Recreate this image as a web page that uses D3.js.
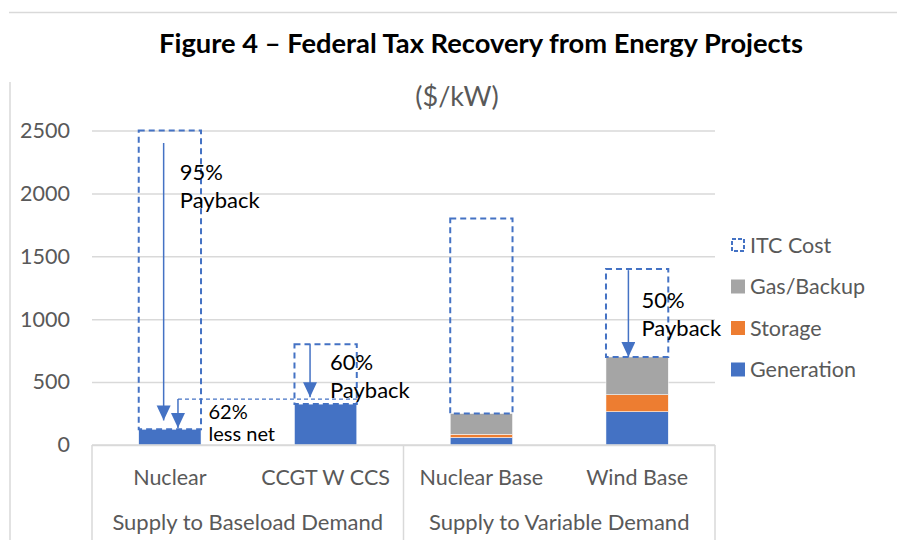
<!DOCTYPE html>
<html>
<head>
<meta charset="utf-8">
<script src="https://cdn.jsdelivr.net/npm/d3@7"></script>
<style>
  body { margin: 0; background: #fff; }
  svg { display: block; font-family: Lato, 'Open Sans', sans-serif; }
</style>
</head>
<body>
<div id="chart"></div>
<script>
// chart values
const categories = ['Nuclear', 'CCGT W CCS', 'Nuclear Base', 'Wind Base'];
const groupNames = ['Supply to Baseload Demand', 'Supply to Variable Demand'];
const groupMembers = [['Nuclear', 'CCGT W CCS'], ['Nuclear Base', 'Wind Base']];
const generation = [125, 325, 60, 265];
const storage = [0, 0, 25, 135];
const gasBackup = [0, 0, 165, 300];
const itcCost = [2375, 475, 1550, 700];
const yTicks = [0, 500, 1000, 1500, 2000, 2500];

// annotations (positions in data units: category + fraction of bar width, value)
const arrows = [
  { cat: 'Nuclear', at: 0.4, from: 2400, to: 195 },
  { cat: 'Nuclear', at: 0.63, from: 365, to: 135 },
  { cat: 'CCGT W CCS', at: 0.25, from: 800, to: 380 },
  { cat: 'Wind Base', at: 0.36, from: 1390, to: 700 },
];
const connector = { fromCat: 'Nuclear', fromAt: 0.63, toCat: 'CCGT W CCS', toAt: 1, value: 365 };
const notes = [
  { cat: 'Nuclear', at: 0.66, value: 2106, lines: ['95%', 'Payback'], gap: 28, size: 22 },
  { cat: 'Nuclear', at: 1.12, value: 203, lines: ['62%', 'less net'], gap: 22, size: 20 },
  { cat: 'CCGT W CCS', at: 0.57, value: 596, lines: ['60%', 'Payback'], gap: 28, size: 22 },
  { cat: 'Wind Base', at: 0.57, value: 1089, lines: ['50%', 'Payback'], gap: 28, size: 22 },
];

const keys = ['Generation', 'Storage', 'Gas/Backup', 'ITC Cost'];
const colors = { 'Generation': '#4472C4', 'Storage': '#ED7D31', 'Gas/Backup': '#A5A5A5', 'ITC Cost': 'none' };

const rows = categories.map((c, i) => ({
  cat: c,
  'Generation': generation[i],
  'Storage': storage[i],
  'Gas/Backup': gasBackup[i],
  'ITC Cost': itcCost[i],
}));

const width = 897;
const height = 540;
const plot = { left: 92, right: 715, top: 130.5, bottom: 445 };

const svg = d3.select('#chart').append('svg')
  .attr('width', width)
  .attr('height', height)
  .attr('viewBox', `0 0 ${width} ${height}`);

svg.append('rect').attr('width', width).attr('height', height).attr('fill', '#fff');

// page border lines
svg.append('line').attr('x1', 9).attr('x2', width).attr('y1', 12.5).attr('y2', 12.5)
  .attr('stroke', '#d9d9d9').attr('stroke-width', 1.5);
svg.append('line').attr('x1', 10).attr('x2', 10).attr('y1', 82).attr('y2', height)
  .attr('stroke', '#d9d9d9').attr('stroke-width', 1.5);

const x = d3.scaleBand()
  .domain(categories)
  .range([plot.left, plot.right])
  .paddingInner(0.6)
  .paddingOuter(0.3);

const y = d3.scaleLinear().domain([0, 2500]).range([plot.bottom, plot.top]);

const xAt = (cat, at) => x(cat) + at * x.bandwidth();

// title
svg.append('text')
  .attr('x', 481).attr('y', 53)
  .attr('text-anchor', 'middle')
  .attr('font-weight', 'bold')
  .attr('font-size', 27.3)
  .attr('fill', '#000')
  .text('Figure 4 – Federal Tax Recovery from Energy Projects');

svg.append('text')
  .attr('x', 457).attr('y', 106)
  .attr('text-anchor', 'middle')
  .attr('font-size', 27)
  .attr('fill', '#595959')
  .text('($/kW)');

// gridlines
const grid = svg.append('g')
  .attr('transform', `translate(${plot.left},0)`)
  .call(d3.axisLeft(y).tickValues(yTicks).tickFormat('').tickSize(-(plot.right - plot.left)));
grid.select('.domain').remove();
grid.selectAll('line').attr('stroke', '#d9d9d9').attr('stroke-width', 1.5);

// y labels
const yAxis = svg.append('g')
  .attr('transform', `translate(${plot.left - 22},0)`)
  .call(d3.axisLeft(y).tickValues(yTicks).tickFormat(d3.format('d')).tickSize(0).tickPadding(0));
yAxis.select('.domain').remove();
yAxis.selectAll('text')
  .attr('font-family', 'Lato, sans-serif')
  .attr('font-size', 21.5)
  .attr('fill', '#595959');

// stacked bars
const stacked = d3.stack().keys(keys)(rows);

const layers = svg.append('g').selectAll('g')
  .data(stacked)
  .join('g');

layers.selectAll('rect')
  .data((d) => d.map((v) => ({ key: d.key, v })))
  .join('rect')
  .attr('x', (d) => x(d.v.data.cat))
  .attr('width', x.bandwidth())
  .attr('y', (d) => y(d.v[1]))
  .attr('height', (d) => y(d.v[0]) - y(d.v[1]))
  .attr('fill', (d) => colors[d.key])
  .attr('stroke', (d) => (d.key === 'ITC Cost' ? '#4472C4' : '#fff'))
  .attr('stroke-width', (d) => (d.key === 'ITC Cost' ? 2 : 0.5))
  .attr('stroke-dasharray', (d) => (d.key === 'ITC Cost' ? '6,4' : null))
  .filter((d) => d.v[1] - d.v[0] <= 0)
  .remove();

// x axis (two levels)
const xAxisG = svg.append('g');
xAxisG.append('line')
  .attr('x1', plot.left).attr('x2', plot.right)
  .attr('y1', plot.bottom).attr('y2', plot.bottom)
  .attr('stroke', '#d9d9d9').attr('stroke-width', 1.5);

const groupEdges = [plot.left];
groupMembers.forEach((m) => {
  const last = m[m.length - 1];
  groupEdges.push(x(last) + x.bandwidth() + x.step() * 0.3);
});
xAxisG.selectAll('.sep')
  .data(groupEdges)
  .join('line')
  .attr('x1', (d) => d).attr('x2', (d) => d)
  .attr('y1', plot.bottom).attr('y2', height)
  .attr('stroke', '#d9d9d9').attr('stroke-width', 1.5);

xAxisG.selectAll('.cat')
  .data(categories)
  .join('text')
  .attr('x', (d) => x(d) + x.bandwidth() / 2)
  .attr('y', plot.bottom + 40)
  .attr('text-anchor', 'middle')
  .attr('font-size', 21.5)
  .attr('fill', '#595959')
  .text((d) => d);

xAxisG.selectAll('.grp')
  .data(groupNames)
  .join('text')
  .attr('x', (d, i) => (groupEdges[i] + groupEdges[i + 1]) / 2)
  .attr('y', plot.bottom + 85)
  .attr('text-anchor', 'middle')
  .attr('font-size', 22)
  .attr('fill', '#595959')
  .text((d) => d);

// arrows
const defs = svg.append('defs');
defs.append('marker')
  .attr('id', 'head')
  .attr('markerUnits', 'userSpaceOnUse')
  .attr('markerWidth', 15).attr('markerHeight', 15)
  .attr('refX', 15).attr('refY', 7)
  .attr('orient', 'auto')
  .append('path')
  .attr('d', 'M0,0 L15,7 L0,14 Z')
  .attr('fill', '#4472C4');

svg.append('line')
  .attr('x1', xAt(connector.fromCat, connector.fromAt))
  .attr('x2', xAt(connector.toCat, connector.toAt))
  .attr('y1', y(connector.value)).attr('y2', y(connector.value))
  .attr('stroke', '#4472C4').attr('stroke-width', 1.2)
  .attr('stroke-dasharray', '4,3');

svg.append('g').selectAll('line')
  .data(arrows)
  .join('line')
  .attr('x1', (d) => xAt(d.cat, d.at)).attr('x2', (d) => xAt(d.cat, d.at))
  .attr('y1', (d) => y(d.from)).attr('y2', (d) => y(d.to))
  .attr('stroke', '#4472C4').attr('stroke-width', 1.5)
  .attr('marker-end', 'url(#head)');

// annotation text, one text per line
svg.append('g').selectAll('text')
  .data(notes.flatMap((n) => n.lines.map((t, i) => ({ t, i, n }))))
  .join('text')
  .attr('x', (d) => xAt(d.n.cat, d.n.at))
  .attr('y', (d) => y(d.n.value) + d.i * d.n.gap)
  .attr('font-size', (d) => d.n.size)
  .attr('fill', '#000')
  .text((d) => d.t);

// legend
const legendKeys = ['ITC Cost', 'Gas/Backup', 'Storage', 'Generation'];
const legend = svg.append('g').selectAll('g')
  .data(legendKeys)
  .join('g')
  .attr('transform', (d, i) => `translate(731, ${245 + i * 41.5})`);

legend.append('rect')
  .attr('x', (d) => (d === 'ITC Cost' ? 1 : 0))
  .attr('y', (d) => (d === 'ITC Cost' ? -6 : -7))
  .attr('width', (d) => (d === 'ITC Cost' ? 12 : 14))
  .attr('height', (d) => (d === 'ITC Cost' ? 12 : 14))
  .attr('fill', (d) => colors[d])
  .attr('stroke', (d) => (d === 'ITC Cost' ? '#4472C4' : 'none'))
  .attr('stroke-width', 2)
  .attr('stroke-dasharray', (d) => (d === 'ITC Cost' ? '4,2' : null));

legend.append('text')
  .attr('x', 19)
  .attr('dy', '0.35em')
  .attr('font-size', 21.5)
  .attr('fill', '#595959')
  .text((d) => d);
</script>
</body>
</html>
